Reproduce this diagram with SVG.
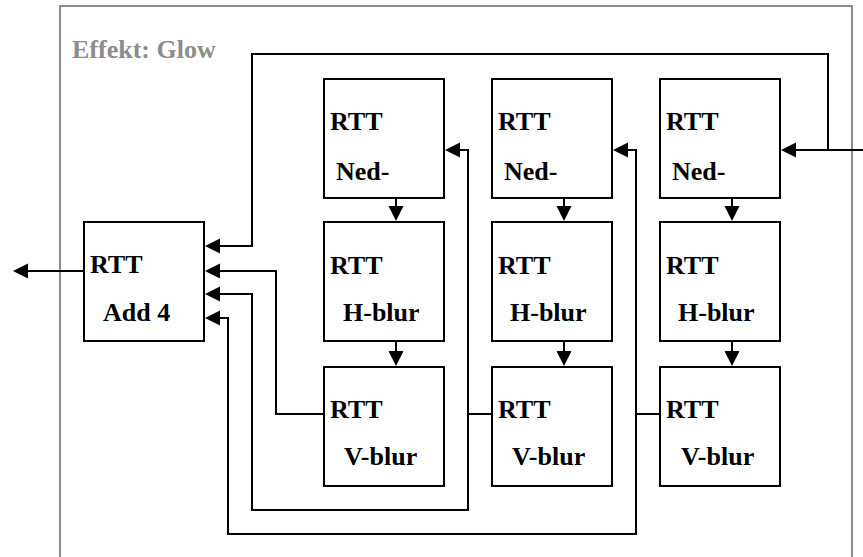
<svg xmlns="http://www.w3.org/2000/svg" width="863" height="557" viewBox="0 0 863 557">
<style>
.box{fill:#fff;stroke:#000;stroke-width:2}
.t{font-family:"Liberation Serif","Times New Roman",serif;font-weight:bold;font-size:26px;fill:#000}
.c{fill:none;stroke:#000;stroke-width:2;stroke-linecap:square;stroke-linejoin:miter}
.a{marker-end:url(#ah)}
</style>
<defs>
<marker id="ah" markerUnits="userSpaceOnUse" markerWidth="16" markerHeight="16" refX="0" refY="7.5" orient="auto">
<path d="M0,0 L15,7.5 L0,15 Z" fill="#000"/>
</marker>
</defs>
<rect width="863" height="557" fill="#fff"/>
<g id="frame">
<rect x="60" y="6" width="792" height="620" fill="none" stroke="#8c8c8c" stroke-width="2"/>
<text x="72" y="58" class="t" style="fill:#8c8c8c">Effekt: Glow</text>
</g>
<g id="connectors">
<path class="c a" d="M84,271 H28"/>
<path class="c a" d="M863,150 H796"/>
<path class="c a" d="M828,150 V54 H252 V246 H220"/>
<path class="c a" d="M324,414 H276 V271 H220"/>
<path class="c" d="M492,414 H468"/>
<path class="c a" d="M468,510 V150 H460"/>
<path class="c a" d="M468,510 H252 V294 H220"/>
<path class="c" d="M660,414 H636"/>
<path class="c a" d="M636,534 V150 H628"/>
<path class="c a" d="M636,534 H228 V318 H220"/>
<path class="c a" d="M396,198 V206"/>
<path class="c a" d="M396,342 V351"/>
<path class="c a" d="M564,198 V206"/>
<path class="c a" d="M564,342 V351"/>
<path class="c a" d="M732,198 V206"/>
<path class="c a" d="M732,342 V351"/>
</g>
<g id="add4">
<rect class="box" x="84" y="222" width="120" height="119"/>
<text class="t" x="90" y="273">RTT</text>
<text class="t" x="103" y="321">Add 4</text>
</g>
<g id="ned1">
<rect class="box" x="324" y="79" width="120" height="119"/>
<text class="t" x="330" y="130">RTT</text>
<text class="t" x="336" y="180">Ned-</text>
</g>
<g id="hblur1">
<rect class="box" x="324" y="222" width="120" height="119"/>
<text class="t" x="330" y="274">RTT</text>
<text class="t" x="343" y="321">H-blur</text>
</g>
<g id="vblur1">
<rect class="box" x="324" y="367" width="120" height="119"/>
<text class="t" x="330" y="418">RTT</text>
<text class="t" x="344" y="465">V-blur</text>
</g>
<g id="ned2">
<rect class="box" x="492" y="79" width="120" height="119"/>
<text class="t" x="498" y="130">RTT</text>
<text class="t" x="504" y="180">Ned-</text>
</g>
<g id="hblur2">
<rect class="box" x="492" y="222" width="120" height="119"/>
<text class="t" x="498" y="274">RTT</text>
<text class="t" x="510" y="321">H-blur</text>
</g>
<g id="vblur2">
<rect class="box" x="492" y="367" width="120" height="119"/>
<text class="t" x="498" y="418">RTT</text>
<text class="t" x="512" y="465">V-blur</text>
</g>
<g id="ned3">
<rect class="box" x="660" y="79" width="120" height="119"/>
<text class="t" x="666" y="130">RTT</text>
<text class="t" x="672" y="180">Ned-</text>
</g>
<g id="hblur3">
<rect class="box" x="660" y="222" width="120" height="119"/>
<text class="t" x="666" y="274">RTT</text>
<text class="t" x="678" y="321">H-blur</text>
</g>
<g id="vblur3">
<rect class="box" x="660" y="367" width="120" height="119"/>
<text class="t" x="666" y="418">RTT</text>
<text class="t" x="681" y="465">V-blur</text>
</g>
</svg>
